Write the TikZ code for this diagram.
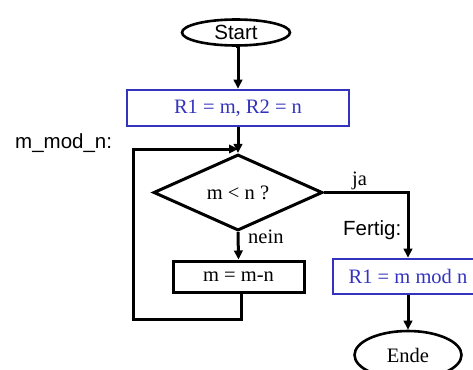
\documentclass[tikz,border=0pt]{standalone}
\usepackage{fontspec}
\setmainfont{Liberation Serif}
\newfontfamily\arialfont{Liberation Sans}
\usetikzlibrary{shapes.geometric,arrows.meta}
\definecolor{boxblue}{RGB}{51,51,190}
\tikzset{
  flow/.style={line width=3pt, -{Triangle[length=9pt,width=8.5pt]}},
  wire/.style={line width=3pt},
  term/.style={ellipse, draw, line width=2.6pt, inner sep=0pt},
  bluebox/.style={rectangle, draw=boxblue, text=boxblue, line width=2.6pt, inner sep=0pt,
    font=\fontsize{20.5}{22}\selectfont},
  plainbox/.style={rectangle, draw, line width=3pt, inner sep=0pt,
    font=\fontsize{20.5}{22}\selectfont},
  test/.style={diamond, draw, line width=3pt, inner sep=0pt,
    font=\fontsize{20.5}{22}\selectfont},
  sanslabel/.style={font=\arialfont\fontsize{20.5}{22}\selectfont, inner sep=0pt},
  seriflabel/.style={font=\fontsize{20.5}{22}\selectfont, inner sep=0pt},
}
\begin{document}
\begin{tikzpicture}[x=1pt,y=-1pt]
\useasboundingbox (0,0) rectangle (473,369);
\clip (0,0) rectangle (473,369);
\fill[white] (0,0) rectangle (473,369);

% terminals
\node[term, minimum width=108pt, minimum height=26pt,
      font=\arialfont\fontsize{20.5}{22}\selectfont] (start) at (236,32.5) {Start};
\node[term, minimum width=107pt, minimum height=48pt,
      font=\fontsize{20.5}{22}\selectfont] (ende) at (408,355) {Ende};

% assignments
\node[bluebox, minimum width=222pt, minimum height=36pt] (init) at (238,108) {R1 = m, R2 = n};
\node[plainbox, minimum width=131pt, minimum height=31pt] (sub) at (238.5,276.5) {m = m-n};
\node[bluebox, minimum width=150pt, minimum height=35pt] (res) at (408,276.5) {R1 = m mod n};

% decision
\node[test, minimum width=169pt, minimum height=59pt] (cmp) at (238,192.5) {m < n ?};

% labels
\node[sanslabel, anchor=west] (lblloop) at (15,143) {m\_mod\_n:};
\node[sanslabel, anchor=west] (lblfertig) at (343,230) {Fertig:};
\node[seriflabel, anchor=west] (lblja) at (352,181) {ja};
\node[seriflabel, anchor=west] (lblnein) at (248,237) {nein};

% routing points
\coordinate (join) at (238,149);
\coordinate (loopbr) at (241,319);
\coordinate (loopbl) at (133,319);
\coordinate (looptl) at (133,149);
\coordinate (jacorner) at (408,192.5);

% connectors
\draw[flow] (start.south) -- (init.south |- start.south) -- (init.north);
\draw[wire] (init.south) -- (join);
\draw[flow] (join) -- (cmp.north);
\draw[flow] (cmp.south) -- (sub.north);
\draw[wire] (sub.south -| loopbr) -- (loopbr) -- (loopbl) -- (looptl) -- ([xshift=1.5pt]looptl);
\draw[flow] (looptl) -- (join);
\draw[flow] (cmp.east) -- (jacorner) -- (res.north);
\draw[flow] (res.south) -- (ende.north);
\end{tikzpicture}
\end{document}
